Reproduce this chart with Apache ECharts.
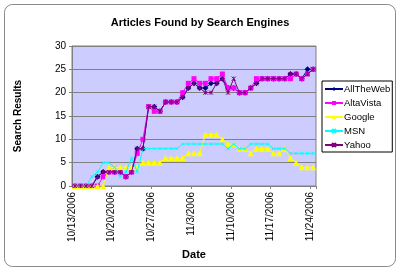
<!DOCTYPE html>
<html>
<head>
<meta charset="utf-8">
<script src="https://cdn.jsdelivr.net/npm/echarts@6/dist/echarts.min.js"></script>
<style>
html,body{margin:0;padding:0;background:#fff;}
#c{width:400px;height:271px;}
</style>
</head>
<body>
<div id="c"></div>
<script>
// Tick labels (one every 7 days, starting 10/13/2006)
const tickLabels = ['10/13/2006','10/20/2006','10/27/2006','11/3/2006','11/10/2006','11/17/2006','11/24/2006'];
const seriesNames = ['AllTheWeb','AltaVista','Google','MSN','Yahoo'];
// Daily values, 10/13/2006 .. 11/24/2006 (43 days)
const allTheWeb = [0,0,0,0,2,3,3,3,3,2, 3,8,8,17,17,16,18,18,18,19, 21,22,21,21,22,22,23,21,21,20, 20,21,22,23,23,23,23,23,24,24, 23,25,25];
const altaVista = [0,0,0,0,0,2,3,3,3,2, 3,7,10,17,16,16,18,18,18,20, 22,23,22,22,23,23,24,21,21,20, 20,21,23,23,23,23,23,23,23,24, 23,24,25];
const google    = [0,0,0,0,0,0,4,4,4,4, 4,4,5,5,5,5,6,6,6,6, 7,7,7,11,11,11,10,9,9,8, 8,7,8,8,8,7,7,8,6,5, 4,4,4];
const msn       = [0,0,0,2,3,5,5,4,2,3, 6,3,8,8,8,8,8,8,8,9, 9,9,9,9,9,9,9,8,9,8, 8,9,9,9,9,8,8,8,7,7, 7,7,7];
const yahoo     = [0,0,0,0,2,3,3,3,3,2, 3,8,8,17,17,16,18,18,18,19, 21,22,21,20,20,22,23,20,23,20, 20,21,22,23,23,23,23,23,24,24, 23,24,25];

const values = [allTheWeb, altaVista, google, msn, yahoo];
const colors = ['#000080','#FF00FF','#FFFF00','#00FFFF','#800080'];
const symbols = ['diamond','rect','triangle','path://M0,0L10,10M10,0L0,10','path://M0,0L10,10M10,0L0,10M5,0L5,10'];
const sizes = [6,5,6,3,4];
const font = 'Liberation Sans, Arial, sans-serif';

const chart = echarts.init(document.getElementById('c'), null, {renderer:'canvas'});
chart.setOption({
  animation:false,
  backgroundColor:'#fff',
  graphic:[{type:'rect',shape:{x:4.5,y:4.5,width:391,height:262,r:8},style:{fill:'none',stroke:'#8a8a8a',lineWidth:1},z:-1}],
  title:{text:'Articles Found by Search Engines',left:'center',top:12,
    textStyle:{fontFamily:font,fontSize:11,fontWeight:'bold',color:'#000'}},
  legend:{orient:'vertical',left:322,top:81,data:seriesNames,
    backgroundColor:'#fff',borderColor:'#000',borderWidth:1,padding:[2,2,1,2],
    itemWidth:18,itemHeight:5,itemGap:2,
    textStyle:{fontFamily:font,fontSize:9.5,color:'#000',lineHeight:12,padding:[0,0,0,-4]}},
  grid:{left:72,right:84,top:46,bottom:85,show:true,backgroundColor:'#CCCCFF',borderColor:'#808080',borderWidth:1},
  xAxis:{type:'value',min:0,max:43,interval:7,
    name:'Date',nameLocation:'middle',nameGap:60,
    nameTextStyle:{fontFamily:font,fontSize:11,fontWeight:'bold',color:'#000'},
    axisLine:{lineStyle:{color:'#808080'}},
    axisTick:{length:3,lineStyle:{color:'#808080'}},
    splitLine:{show:false},
    axisLabel:{rotate:90,margin:6,fontFamily:font,fontSize:10,color:'#000',
      formatter:function(v){return (v%7===0 && tickLabels[v/7])?tickLabels[v/7]:'';}}},
  yAxis:{type:'value',min:0,max:30,interval:5,
    name:'Search Results',nameLocation:'middle',nameGap:49,
    nameTextStyle:{fontFamily:font,fontSize:10,fontWeight:'bold',color:'#000'},
    axisLine:{show:true,lineStyle:{color:'#808080'}},
    axisTick:{show:true,length:3,lineStyle:{color:'#808080'}},
    splitLine:{lineStyle:{color:'#808080',width:1}},
    axisLabel:{margin:6,fontFamily:font,fontSize:10,color:'#000'}},
  series:seriesNames.map(function(n,k){
    return {name:n,type:'line',
      data:values[k].map(function(v,i){return [i+0.5,v];}),
      symbol:symbols[k],symbolSize:sizes[k],showSymbol:true,
      lineStyle:{color:colors[k],width:1},
      itemStyle:{color:colors[k],borderColor:colors[k],borderWidth:k>=3?1:0},
      z:2+k};
  })
});
</script>
</body>
</html>
